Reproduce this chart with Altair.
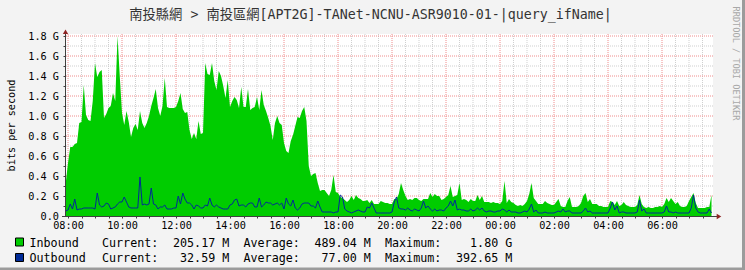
import altair as alt
import pandas as pd

# ---- data: 5-minute samples, values in Gbit/s, first sample at 07:55 ----
START_MIN = -5   # minutes relative to 08:00
STEP_MIN = 5

inbound_08_14 = [0.33, 0.53, 0.69, 0.69, 0.72, 0.73, 0.93, 0.94, 1.31, 1.01,
                 0.96, 0.95, 1.15, 1.53, 1.39, 1.44, 1.46, 0.98, 1.02, 1.08,
                 1.10, 1.23, 1.15, 1.80, 1.40, 1.03, 0.91, 1.05, 0.94, 0.79,
                 0.88, 0.92, 0.86, 1.05, 0.93, 0.88, 0.93, 1.00, 1.10, 1.18,
                 1.27, 1.08, 1.00, 1.10, 1.38, 1.09, 1.08, 1.08, 1.08, 1.09,
                 1.15, 1.23, 1.07, 1.03, 1.04, 0.86, 0.77, 0.83, 0.77, 0.95,
                 0.82, 0.83, 1.53, 1.42, 1.41, 1.53, 1.35, 1.26, 1.45, 1.40,
                 1.30, 1.18]
inbound_14_20 = [1.36, 1.09, 1.15, 1.19, 1.16, 1.08, 1.29, 1.09,
                 1.09, 1.27, 1.06, 1.08, 1.09, 1.19, 1.06, 1.26, 1.11, 1.05,
                 0.98, 0.90, 0.76, 0.93, 1.00, 0.93, 0.91, 0.73, 0.65, 0.63,
                 0.75, 0.81, 0.90, 0.99, 0.98, 1.05, 1.09, 0.95, 0.50, 0.40,
                 0.42, 0.43, 0.33, 0.25, 0.26, 0.26, 0.23, 0.20, 0.26, 0.41,
                 0.24, 0.23, 0.19, 0.18, 0.16, 0.14, 0.16, 0.20, 0.16, 0.21,
                 0.18, 0.17, 0.15, 0.15, 0.16, 0.13, 0.16, 0.12, 0.12, 0.12,
                 0.15, 0.14]
inbound_20_02 = [0.13, 0.13, 0.12, 0.12, 0.17, 0.17, 0.22, 0.33,
                 0.26, 0.20, 0.16, 0.17, 0.16, 0.18, 0.18, 0.16, 0.15, 0.17,
                 0.17, 0.17, 0.23, 0.19, 0.22, 0.20, 0.20, 0.16, 0.17, 0.19,
                 0.21, 0.30, 0.19, 0.20, 0.21, 0.33, 0.16, 0.17, 0.16, 0.14,
                 0.17, 0.15, 0.15, 0.21, 0.16, 0.20, 0.14, 0.14, 0.14, 0.13,
                 0.14, 0.13, 0.13, 0.12, 0.15, 0.35, 0.13, 0.17, 0.14, 0.13,
                 0.11, 0.10, 0.11, 0.10, 0.12, 0.15, 0.22, 0.33, 0.18, 0.15,
                 0.12, 0.12, 0.12, 0.15, 0.13, 0.12]
inbound_02_08 = [0.11, 0.11, 0.14, 0.17,
                 0.10, 0.09, 0.09, 0.15, 0.19, 0.09, 0.09, 0.09, 0.10, 0.13,
                 0.20, 0.23, 0.14, 0.17, 0.12, 0.12, 0.12, 0.10, 0.10, 0.09,
                 0.09, 0.09, 0.15, 0.14, 0.11, 0.15, 0.10, 0.11, 0.14, 0.11,
                 0.10, 0.09, 0.09, 0.09, 0.11, 0.21, 0.12, 0.09, 0.08, 0.09,
                 0.08, 0.08, 0.09, 0.09, 0.10, 0.09, 0.12, 0.18, 0.14, 0.18,
                 0.15, 0.12, 0.14, 0.10, 0.09, 0.09, 0.10, 0.15, 0.19, 0.23,
                 0.13, 0.08, 0.08, 0.08, 0.08, 0.09, 0.09, 0.21]

outbound_08_14 = [0.05, 0.06, 0.12, 0.07, 0.17, 0.06, 0.07, 0.07, 0.08, 0.08,
                  0.08, 0.08, 0.08, 0.07, 0.23, 0.11, 0.09, 0.10, 0.13, 0.12,
                  0.07, 0.08, 0.09, 0.12, 0.14, 0.14, 0.19, 0.14, 0.09, 0.08,
                  0.08, 0.08, 0.08, 0.39, 0.11, 0.12, 0.11, 0.12, 0.28, 0.12,
                  0.11, 0.07, 0.09, 0.09, 0.11, 0.07, 0.07, 0.07, 0.08, 0.08,
                  0.20, 0.12, 0.23, 0.17, 0.13, 0.13, 0.11, 0.07, 0.11, 0.10,
                  0.08, 0.08, 0.11, 0.10, 0.18, 0.11, 0.09, 0.11, 0.09, 0.08,
                  0.07, 0.07]
outbound_14_20 = [0.07, 0.11, 0.12, 0.16, 0.17, 0.10, 0.11, 0.11,
                  0.09, 0.12, 0.13, 0.13, 0.09, 0.09, 0.18, 0.09, 0.11, 0.14,
                  0.13, 0.13, 0.11, 0.12, 0.13, 0.11, 0.13, 0.07, 0.18, 0.12,
                  0.10, 0.16, 0.08, 0.06, 0.08, 0.12, 0.13, 0.13, 0.13, 0.10,
                  0.10, 0.08, 0.15, 0.09, 0.04, 0.04, 0.04, 0.04, 0.04, 0.03,
                  0.04, 0.04, 0.21, 0.19, 0.07, 0.05, 0.04, 0.03, 0.04, 0.05,
                  0.06, 0.05, 0.04, 0.04, 0.09, 0.08, 0.13, 0.08, 0.03, 0.03,
                  0.03, 0.03]
outbound_20_02 = [0.03, 0.03, 0.03, 0.04, 0.14, 0.19, 0.08, 0.07,
                  0.07, 0.06, 0.08, 0.06, 0.05, 0.07, 0.06, 0.05, 0.08, 0.15,
                  0.08, 0.10, 0.07, 0.05, 0.07, 0.05, 0.06, 0.06, 0.05, 0.08,
                  0.10, 0.15, 0.10, 0.16, 0.06, 0.07, 0.06, 0.06, 0.05, 0.05,
                  0.07, 0.05, 0.06, 0.08, 0.06, 0.08, 0.05, 0.04, 0.05, 0.05,
                  0.04, 0.04, 0.05, 0.05, 0.07, 0.06, 0.04, 0.06, 0.04, 0.04,
                  0.04, 0.03, 0.03, 0.04, 0.05, 0.04, 0.07, 0.12, 0.04, 0.06,
                  0.03, 0.03, 0.03, 0.04, 0.03, 0.03]
outbound_02_08 = [0.03, 0.03, 0.04, 0.05,
                  0.04, 0.07, 0.04, 0.05, 0.05, 0.03, 0.03, 0.03, 0.03, 0.03,
                  0.05, 0.08, 0.04, 0.05, 0.03, 0.03, 0.03, 0.03, 0.03, 0.03,
                  0.03, 0.03, 0.08, 0.14, 0.06, 0.10, 0.03, 0.04, 0.04, 0.03,
                  0.03, 0.03, 0.03, 0.03, 0.04, 0.16, 0.05, 0.07, 0.03, 0.03,
                  0.03, 0.03, 0.03, 0.03, 0.03, 0.03, 0.04, 0.10, 0.04, 0.04,
                  0.03, 0.04, 0.03, 0.03, 0.03, 0.03, 0.03, 0.03, 0.08, 0.21,
                  0.08, 0.04, 0.03, 0.03, 0.03, 0.03, 0.07, 0.03]

title_text = "南投縣網 > 南投區網[APT2G]-TANet-NCNU-ASR9010-01-|query_ifName|"
y_title = "bits per second"
legend_names = ["Inbound", "Outbound"]
legend_current = ["205.17 M", "32.59 M"]
legend_average = ["489.04 M", "77.00 M"]
legend_maximum = ["1.80 G", "392.65 M"]
watermark = "RRDTOOL / TOBI OETIKER"

# ---- build table ----
inbound = inbound_08_14 + inbound_14_20 + inbound_20_02 + inbound_02_08
outbound = outbound_08_14 + outbound_14_20 + outbound_20_02 + outbound_02_08
n = min(len(inbound), len(outbound))
df = pd.DataFrame({
    "t": [START_MIN + STEP_MIN * i for i in range(n)],
    "inbound": inbound[:n],
    "outbound": outbound[:n],
})

GREEN = "#00CC00"
BLUE = "#002A97"
AXIS_COLOR = "#404040"
ARROW = "#8E2424"
MGRID = "#F08C8C"
GRID = "#CFCFCF"
MONO = "DejaVu Sans Mono"
W, H = 648, 182

x_scale = alt.Scale(domain=[-20 / 3, 1440 - 20 / 3], nice=False, zero=False)
y_scale = alt.Scale(domain=[0, 1.82], nice=False, zero=False)

x_ticks = list(range(0, 1440, 30))
y_ticks = [round(0.1 * i, 1) for i in range(19)]
minor_x = [m for m in x_ticks if m % 120]
major_x = [m for m in x_ticks if m % 120 == 0]
minor_y = [v for v in y_ticks if round(v * 10) % 2 == 1]
major_y = [v for v in y_ticks if round(v * 10) % 2 == 0 and v > 0]

x_axis = alt.Axis(
    values=x_ticks, title=None, grid=False, domain=False,
    tickSize=2, tickColor=AXIS_COLOR,
    labelExpr=("datum.value % 120 == 0 ? "
               "((floor(datum.value/60+8)%24) < 10 ? '0' : '') + "
               "(floor(datum.value/60+8)%24) + ':00' : ''"),
    labelFont=MONO, labelFontSize=10.2, labelColor="#000000",
    labelPadding=2, labelOverlap=False, labelFlush=False,
)
y_axis = alt.Axis(
    values=y_ticks, title=y_title, grid=False, domain=False,
    tickSize=2, tickColor=AXIS_COLOR,
    labelExpr=("round(datum.value*10) % 2 == 0 ? "
               "(datum.value == 0 ? '0.0' : format(datum.value, '.1f') + ' G') : ''"),
    labelFont=MONO, labelFontSize=10.2, labelColor="#000000",
    labelPadding=4.5, labelOverlap=False, labelFlush=False,
    titleFont=MONO, titleFontSize=10.2, titleFontWeight="normal", titleColor="#000000",
    titleAngle=-90, titleX=-54, titleY=91, titleAlign="center", titleBaseline="middle",
)


def X(field):
    return alt.X(field, type="quantitative", scale=x_scale, axis=x_axis)


def Y(field):
    return alt.Y(field, type="quantitative", scale=y_scale, axis=y_axis)


layers = []

# grid lines
for vals, color in [(minor_x, GRID), (major_x, MGRID)]:
    layers.append(alt.Chart(pd.DataFrame({"t": vals})).mark_rule(
        color=color, strokeDash=[1, 1], strokeWidth=1).encode(x=X("t")))
for vals, color in [(minor_y, GRID), (major_y, MGRID)]:
    layers.append(alt.Chart(pd.DataFrame({"v": vals})).mark_rule(
        color=color, strokeDash=[1, 1], strokeWidth=1).encode(y=Y("v")))

# data
layers.append(alt.Chart(df).mark_area(color=GREEN, opacity=1, interpolate="linear").encode(
    x=X("t"), y=Y("inbound")))
layers.append(alt.Chart(df).mark_line(color=BLUE, strokeWidth=1, interpolate="linear").encode(
    x=X("t"), y=Y("outbound")))

one = alt.Data(values=[{}])

# axis lines and arrows
layers.append(alt.Chart(one).mark_rule(color=AXIS_COLOR, strokeWidth=1).encode(
    x=alt.value(0.5), y=alt.value(-2), y2=alt.value(H)))
layers.append(alt.Chart(one).mark_rule(color=AXIS_COLOR, strokeWidth=1).encode(
    x=alt.value(-3), x2=alt.value(W + 5), y=alt.value(H + 0.5)))
layers.append(alt.Chart(one).mark_point(shape="triangle-up", filled=True, size=28,
                                        color=ARROW, opacity=1).encode(
    x=alt.value(0.5), y=alt.value(-2.3)))
layers.append(alt.Chart(one).mark_point(shape="triangle-right", filled=True, size=28,
                                        color=ARROW, opacity=1).encode(
    x=alt.value(W + 6), y=alt.value(H + 0.5)))


def txt(s, x, y, size, align="left", color="#000000", angle=0, font=MONO):
    kw = dict(align=align, baseline="middle", font=font, fontSize=size, color=color)
    if angle:
        kw["angle"] = angle
    return alt.Chart(one).mark_text(**kw).encode(
        x=alt.value(x), y=alt.value(y), text=alt.value(s))


# title
layers.append(txt(title_text, 305.5, -19.5, 13.3, align="center", color="#333333",
                  font="DejaVu Sans Mono, Noto Sans CJK TC"))
# watermark
layers.append(txt(watermark, 671, 29.5, 8.6, align="center", color="#A8A8A8", angle=90))

# legend
row_y = [208.9, 224.2]
sw_y = [204.0, 219.5]
for i, (name, color) in enumerate(zip(legend_names, [GREEN, BLUE])):
    layers.append(alt.Chart(one).mark_rect(fill=color, stroke="#000000", strokeWidth=1).encode(
        x=alt.value(-49.5), x2=alt.value(-41.5), y=alt.value(sw_y[i]), y2=alt.value(sw_y[i] + 8)))
    ly = row_y[i]
    layers.append(txt(name, -35.5, ly, 11.7))
    layers.append(txt("Current:", 37, ly, 11.7))
    layers.append(txt(legend_current[i], 164.3, ly, 11.7, align="right"))
    layers.append(txt("Average:", 178.5, ly, 11.7))
    layers.append(txt(legend_average[i], 305.8, ly, 11.7, align="right"))
    layers.append(txt("Maximum:", 320, ly, 11.7))
    layers.append(txt(legend_maximum[i], 447.3, ly, 11.7, align="right"))

# frame shading (right / bottom)
layers.append(alt.Chart(one).mark_rect(fill="#9B9B9B").encode(
    x=alt.value(W + 32 - 3), x2=alt.value(W + 32), y=alt.value(-34), y2=alt.value(H + 54)))
layers.append(alt.Chart(one).mark_rect(fill="#9B9B9B").encode(
    x=alt.value(-65), x2=alt.value(W + 32), y=alt.value(H + 54 - 2.5), y2=alt.value(H + 54)))

chart = alt.layer(*layers).properties(
    width=W, height=H,
    autosize=alt.AutoSizeParams(type="none"),
    padding={"left": 65, "top": 34, "right": 32, "bottom": 54},
    background="#F3F3F3",
).configure_view(fill="white", stroke=None)

chart.save("out.html", embed_options={"renderer": "svg", "actions": False})
